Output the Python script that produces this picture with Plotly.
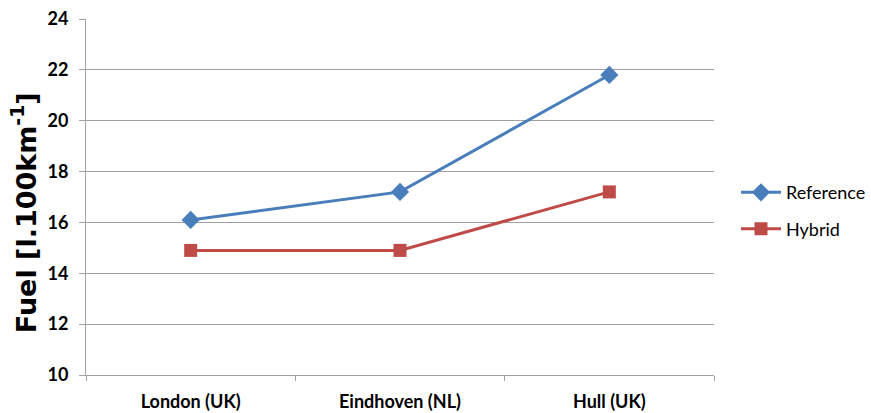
import plotly.graph_objects as go

cities = ["London (UK)", "Eindhoven (NL)", "Hull (UK)"]
reference_fuel = [16.1, 17.2, 21.8]
hybrid_fuel = [14.9, 14.9, 17.2]
y_ticks = [10, 12, 14, 16, 18, 20, 22, 24]

label_font = "Lato, 'Liberation Sans', sans-serif"
title_font = "'DejaVu Sans', 'Liberation Sans', sans-serif"

fig = go.Figure()
fig.add_trace(go.Scatter(
    x=cities, y=reference_fuel, name="Reference", mode="lines+markers",
    legendgroup="reference",
    line=dict(color="#4a7ebb", width=3),
    marker=dict(symbol="diamond", size=14, color="#4a7ebb"),
))
fig.add_trace(go.Scatter(
    x=cities, y=hybrid_fuel, name="Hybrid", mode="lines+markers",
    legendgroup="hybrid",
    line=dict(color="#be4b48", width=3),
    marker=dict(symbol="square", size=13, color="#be4b48"),
))

# y-axis title drawn as a rotated annotation so it can sit slightly below centre
fig.add_annotation(
    text="Fuel [l.100km<sup>-1</sup>]", textangle=-90,
    xref="paper", yref="paper", x=-0.1, y=0.455,
    xanchor="center", yanchor="middle", showarrow=False,
    font=dict(size=27, family=title_font, color="#000000", weight="bold"),
)

fig.update_layout(
    width=871, height=413,
    margin=dict(l=86, r=157, t=19, b=38),
    paper_bgcolor="white", plot_bgcolor="white",
    font=dict(family=label_font, color="#000000"),
    showlegend=True,
    legend=dict(
        xref="container", yref="container",
        x=0.845, y=0.49, xanchor="left", yanchor="middle",
        font=dict(size=18, family=label_font, color="#000000"),
        tracegroupgap=10, itemwidth=40,
    ),
    xaxis=dict(
        type="category", tickson="boundaries", ticks="outside",
        ticklen=5, tickcolor="#a0a0a0", showline=True, linecolor="#a0a0a0",
        linewidth=1, showgrid=False, range=[-0.5, 2.5], ticklabelstandoff=10,
        automargin=False,
        tickfont=dict(size=18, family=label_font, color="#000000", weight="bold"),
    ),
    yaxis=dict(
        range=[10, 24], tickvals=y_ticks, ticks="outside", ticklen=6,
        tickcolor="#a0a0a0", showline=True, linecolor="#a0a0a0", linewidth=1,
        showgrid=True, gridcolor="#a0a0a0", gridwidth=1, zeroline=False,
        ticklabelstandoff=7, automargin=False,
        tickfont=dict(size=18, family=label_font, color="#000000", weight="bold"),
    ),
)

fig.write_html("out.html")
